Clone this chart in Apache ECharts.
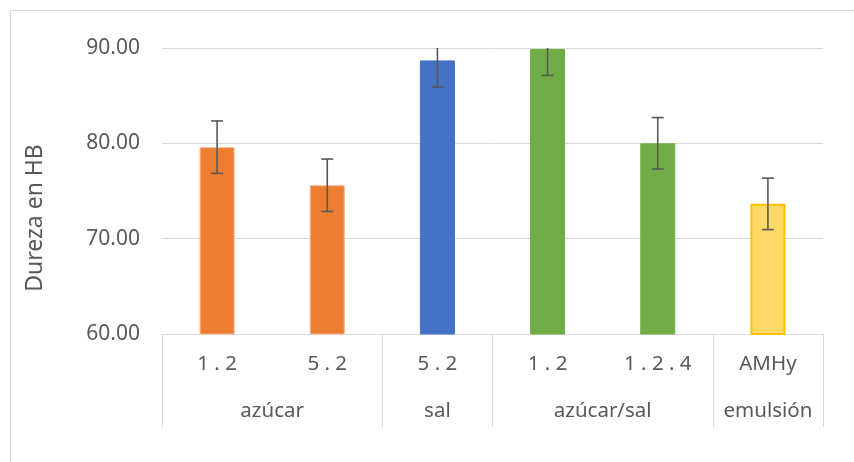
<!DOCTYPE html>
<html>
<head>
<meta charset="utf-8">
<script src="https://cdn.jsdelivr.net/npm/echarts@6/dist/echarts.min.js"></script>
<style>
html,body{margin:0;padding:0;background:#fff;}
#c{width:854px;height:462px;}
</style>
</head>
<body>
<div id="c"></div>
<script>
var categories = ['1 . 2', '5 . 2', '5 . 2', '1 . 2', '1 . 2 . 4', 'AMHy'];
var groupNames = ['azúcar', 'sal', 'azúcar/sal', 'emulsión'];
var groupSizes = [2, 1, 2, 1];
var values = [79.6, 75.6, 88.7, 89.9, 80.0, 73.65];
var errors = [2.75, 2.75, 2.8, 2.77, 2.7, 2.7];
var barColors = ['#ED7D31', '#ED7D31', '#4472C4', '#70AD47', '#70AD47', '#FFD966'];
var barBorders = ['#F6B891', '#F6B891', '#4472C4', '#70AD47', '#70AD47', '#FFC000'];
var yTicks = [60, 70, 80, 90];

// Build group axis: 2 points per category, boundaryGap false
var n = categories.length;
var groupAxisData = [];
for (var i = 0; i <= 2 * n; i++) groupAxisData.push('');
var boundaries = [0];
var pos = 0;
groupNames.forEach(function (g, k) {
  var center = pos + groupSizes[k];
  groupAxisData[center] = g;
  pos += 2 * groupSizes[k];
  boundaries.push(pos);
});

var font = 'Noto Sans';
var textColor = '#595959';

var chart = echarts.init(document.getElementById('c'), null, {renderer: 'canvas'});
chart.setOption({
  animation: false,
  backgroundColor: '#fff',
  textStyle: {fontFamily: font},
  grid: {left: 162, right: 31, top: 48, bottom: 128, containLabel: false},
  graphic: [
    {type: 'line', shape: {x1: 10.5, y1: 10.5, x2: 854, y2: 10.5}, style: {stroke: '#D9D9D9', lineWidth: 1}, silent: true},
    {type: 'line', shape: {x1: 10.5, y1: 10.5, x2: 10.5, y2: 462}, style: {stroke: '#D9D9D9', lineWidth: 1}, silent: true},
    {type: 'text', x: 35, y: 218, rotation: Math.PI / 2,
     style: {text: 'Dureza en HB', fill: textColor, font: '23px "Noto Sans"', align: 'center', verticalAlign: 'middle'}}
  ],
  xAxis: [
    {
      type: 'category', data: categories, position: 'bottom',
      axisLine: {show: true, lineStyle: {color: '#D9D9D9', width: 1}},
      axisTick: {show: false},
      axisLabel: {color: textColor, fontSize: 20.5, fontFamily: font, margin: 20, interval: 0}
    },
    {
      type: 'category', data: groupAxisData, position: 'bottom', boundaryGap: false,
      axisLine: {show: false},
      axisTick: {show: true, length: 93, lineStyle: {color: '#D9D9D9', width: 1},
        interval: function (idx) { return boundaries.indexOf(idx) >= 0; }},
      axisLabel: {color: textColor, fontSize: 20.5, fontFamily: font, margin: 67,
        interval: function (idx) { return groupAxisData[idx] !== ''; }}
    }
  ],
  yAxis: {
    type: 'value', min: 60, max: 90, interval: 10,
    axisLine: {show: false}, axisTick: {show: false},
    splitLine: {lineStyle: {color: '#D9D9D9', width: 1}},
    axisLabel: {color: textColor, fontSize: 21, fontFamily: font, margin: 22,
      formatter: function (v) { return yTicks.indexOf(v) >= 0 ? v.toFixed(2) : ''; }}
  },
  series: [
    {
      type: 'bar', xAxisIndex: 0, barWidth: 35,
      data: values.map(function (v, i) {
        return {value: v, itemStyle: {color: barColors[i], borderColor: barBorders[i], borderWidth: i === 5 ? 2 : 1}};
      })
    },
    {
      type: 'custom', xAxisIndex: 0, clip: true, z: 5,
      data: values.map(function (v, i) { return [i, v - errors[i], v + errors[i]]; }),
      renderItem: function (params, api) {
        var lo = api.coord([api.value(0), api.value(1)]);
        var hi = api.coord([api.value(0), api.value(2)]);
        var hw = 6;
        var st = {stroke: '#595959', lineWidth: 1.6};
        return {type: 'group', children: [
          {type: 'line', shape: {x1: lo[0], y1: lo[1], x2: hi[0], y2: hi[1]}, style: st},
          {type: 'line', shape: {x1: lo[0] - hw, y1: lo[1], x2: lo[0] + hw, y2: lo[1]}, style: st},
          {type: 'line', shape: {x1: hi[0] - hw, y1: hi[1], x2: hi[0] + hw, y2: hi[1]}, style: st}
        ]};
      }
    }
  ]
});
</script>
</body>
</html>
